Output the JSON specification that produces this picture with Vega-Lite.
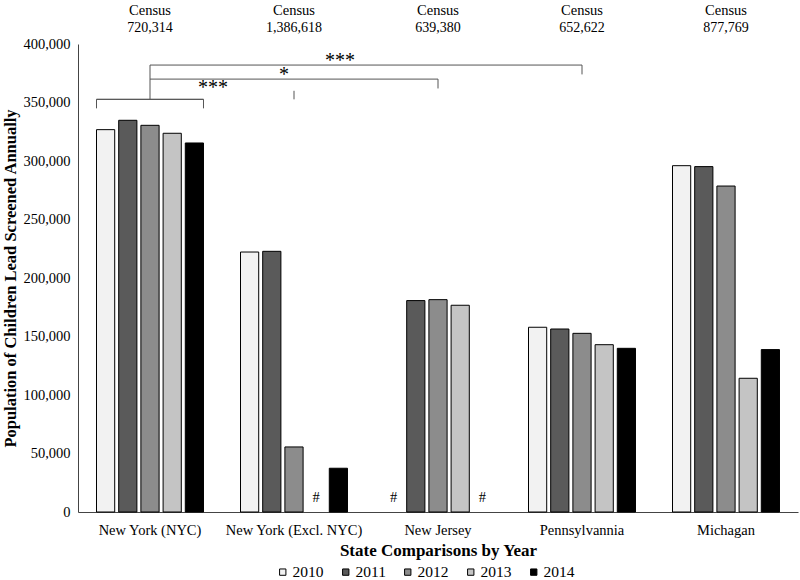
{
  "$schema": "https://vega.github.io/schema/vega-lite/v6.json",
  "width": 720,
  "height": 468,
  "autosize": {"type": "none"},
  "padding": {"left": 78, "top": 44, "right": 2, "bottom": 68},
  "background": "white",
  "config": {
    "font": "Liberation Serif",
    "view": {"stroke": null},
    "axis": {"labelFont": "Liberation Serif", "titleFont": "Liberation Serif", "labelColor": "black", "titleColor": "black", "domainColor": "#444", "grid": false, "ticks": false},
    "legend": {"labelFont": "Liberation Serif", "labelColor": "black"},
    "text": {"font": "Liberation Serif", "color": "black"}
  },
  "datasets": {
    "bars": [
      {"state": "New York (NYC)", "year": "2010", "value": 326800},
      {"state": "New York (NYC)", "year": "2011", "value": 334800},
      {"state": "New York (NYC)", "year": "2012", "value": 330500},
      {"state": "New York (NYC)", "year": "2013", "value": 323700},
      {"state": "New York (NYC)", "year": "2014", "value": 315400},
      {"state": "New York (Excl. NYC)", "year": "2010", "value": 222200},
      {"state": "New York (Excl. NYC)", "year": "2011", "value": 222800},
      {"state": "New York (Excl. NYC)", "year": "2012", "value": 55600},
      {"state": "New York (Excl. NYC)", "year": "2013", "value": null},
      {"state": "New York (Excl. NYC)", "year": "2014", "value": 37400},
      {"state": "New Jersey", "year": "2010", "value": null},
      {"state": "New Jersey", "year": "2011", "value": 180700},
      {"state": "New Jersey", "year": "2012", "value": 181500},
      {"state": "New Jersey", "year": "2013", "value": 176700},
      {"state": "New Jersey", "year": "2014", "value": null},
      {"state": "Pennsylvannia", "year": "2010", "value": 157900},
      {"state": "Pennsylvannia", "year": "2011", "value": 156400},
      {"state": "Pennsylvannia", "year": "2012", "value": 152700},
      {"state": "Pennsylvannia", "year": "2013", "value": 143000},
      {"state": "Pennsylvannia", "year": "2014", "value": 139900},
      {"state": "Michagan", "year": "2010", "value": 296000},
      {"state": "Michagan", "year": "2011", "value": 295200},
      {"state": "Michagan", "year": "2012", "value": 278600},
      {"state": "Michagan", "year": "2013", "value": 114300},
      {"state": "Michagan", "year": "2014", "value": 138800}
    ],
    "census": [
      {"state": "New York (NYC)", "census": 720314},
      {"state": "New York (Excl. NYC)", "census": 1386618},
      {"state": "New Jersey", "census": 639380},
      {"state": "Pennsylvannia", "census": 652622},
      {"state": "Michagan", "census": 877769}
    ],
    "hlines": [
      {"state": "New York (NYC)", "to": "New Jersey", "y": 370000},
      {"state": "New York (NYC)", "to": "Pennsylvannia", "y": 382000}
    ],
    "vlines": [
      {"state": "New York (NYC)", "y": 352700, "y2": 382000},
      {"state": "New York (Excl. NYC)", "y": 352700, "y2": 360000},
      {"state": "New Jersey", "y": 362000, "y2": 370000},
      {"state": "Pennsylvannia", "y": 374000, "y2": 382000}
    ],
    "group": [
      {"state": "New York (NYC)", "y": 352700, "y2": 345000}
    ],
    "stars": [
      {"state": "New York (NYC)", "label": "***", "y": 357500, "shift": 0},
      {"state": "New York (Excl. NYC)", "label": "*", "y": 368500, "shift": 1},
      {"state": "New York (Excl. NYC)", "label": "***", "y": 380500, "shift": 2}
    ]
  },
  "layer": [
    {
      "data": {"name": "bars"},
      "transform": [{"filter": "datum.value != null"}],
      "mark": {"type": "bar", "stroke": "black", "strokeWidth": 1},
      "encoding": {
        "x": {
          "field": "state", "type": "nominal",
          "scale": {"domain": ["New York (NYC)", "New York (Excl. NYC)", "New Jersey", "Pennsylvannia", "Michagan"], "paddingInner": 0.257, "paddingOuter": 0.1285},
          "axis": {"title": "State Comparisons by Year", "labelAngle": 0, "labelFontSize": 14.5, "titleFontSize": 17, "titleFontWeight": "bold", "labelPadding": 11, "titlePadding": 6}
        },
        "xOffset": {"field": "year", "type": "nominal", "scale": {"paddingInner": 0.18}},
        "y": {
          "field": "value", "type": "quantitative",
          "scale": {"domain": [0, 400000], "nice": false},
          "axis": {"title": "Population of Children Lead Screened Annually", "values": [0, 50000, 100000, 150000, 200000, 250000, 300000, 350000, 400000], "format": ",.0f", "labelFontSize": 14.5, "titleFontSize": 16.5, "titleFontWeight": "bold", "labelPadding": 8, "titlePadding": 4}
        },
        "fill": {
          "field": "year", "type": "nominal",
          "scale": {"domain": ["2010", "2011", "2012", "2013", "2014"], "range": ["#f2f2f2", "#5a5a5a", "#8c8c8c", "#c4c4c4", "#000000"]},
          "legend": {"orient": "none", "legendX": 197, "legendY": 520, "direction": "horizontal", "title": null, "symbolType": "square", "symbolSize": 40, "symbolStrokeColor": "black", "symbolStrokeWidth": 1, "labelFontSize": 15.5, "labelOffset": 2, "columnPadding": 14}
        }
      }
    },
    {
      "data": {"name": "bars"},
      "transform": [{"filter": "datum.value == null"}],
      "mark": {"type": "text", "text": "#", "fontSize": 14.5, "baseline": "bottom", "dy": -7},
      "encoding": {
        "x": {"field": "state", "type": "nominal"},
        "xOffset": {"field": "year", "type": "nominal"},
        "y": {"datum": 0}
      }
    },
    {
      "data": {"name": "census"},
      "mark": {"type": "text", "text": "Census", "fontSize": 14.5, "baseline": "middle"},
      "encoding": {
        "x": {"field": "state", "type": "nominal"},
        "y": {"datum": 428200}
      }
    },
    {
      "data": {"name": "census"},
      "mark": {"type": "text", "fontSize": 14, "baseline": "middle"},
      "encoding": {
        "x": {"field": "state", "type": "nominal"},
        "y": {"datum": 413300},
        "text": {"field": "census", "type": "quantitative", "format": ",.0f"}
      }
    },
    {
      "data": {"name": "hlines"},
      "mark": {"type": "rule", "color": "#555", "strokeWidth": 1},
      "encoding": {
        "x": {"field": "state", "type": "nominal"},
        "x2": {"field": "to"},
        "y": {"field": "y", "type": "quantitative"}
      }
    },
    {
      "data": {"name": "vlines"},
      "mark": {"type": "rule", "color": "#555", "strokeWidth": 1},
      "encoding": {
        "x": {"field": "state", "type": "nominal"},
        "y": {"field": "y", "type": "quantitative"},
        "y2": {"field": "y2"}
      }
    },
    {
      "data": {"name": "group"},
      "mark": {"type": "rule", "color": "#555", "strokeWidth": 1},
      "encoding": {
        "x": {"field": "state", "type": "nominal", "bandPosition": 0},
        "y": {"field": "y", "type": "quantitative"},
        "y2": {"field": "y2"}
      }
    },
    {
      "data": {"name": "group"},
      "mark": {"type": "rule", "color": "#555", "strokeWidth": 1},
      "encoding": {
        "x": {"field": "state", "type": "nominal", "bandPosition": 1},
        "y": {"field": "y", "type": "quantitative"},
        "y2": {"field": "y2"}
      }
    },
    {
      "data": {"name": "group"},
      "mark": {"type": "bar", "fill": "transparent", "stroke": "#555", "strokeWidth": 1},
      "encoding": {
        "x": {"field": "state", "type": "nominal"},
        "y": {"field": "y", "type": "quantitative"},
        "y2": {"field": "y"}
      }
    },
    {
      "data": {"name": "stars"},
      "transform": [{"filter": "datum.shift == 0"}],
      "mark": {"type": "text", "fontSize": 20, "baseline": "alphabetic", "dx": 63},
      "encoding": {
        "x": {"field": "state", "type": "nominal"},
        "y": {"field": "y", "type": "quantitative"},
        "text": {"field": "label"}
      }
    },
    {
      "data": {"name": "stars"},
      "transform": [{"filter": "datum.shift == 1"}],
      "mark": {"type": "text", "fontSize": 20, "baseline": "alphabetic", "dx": -10},
      "encoding": {
        "x": {"field": "state", "type": "nominal"},
        "y": {"field": "y", "type": "quantitative"},
        "text": {"field": "label"}
      }
    },
    {
      "data": {"name": "stars"},
      "transform": [{"filter": "datum.shift == 2"}],
      "mark": {"type": "text", "fontSize": 20, "baseline": "alphabetic", "dx": 46},
      "encoding": {
        "x": {"field": "state", "type": "nominal"},
        "y": {"field": "y", "type": "quantitative"},
        "text": {"field": "label"}
      }
    }
  ]
}
